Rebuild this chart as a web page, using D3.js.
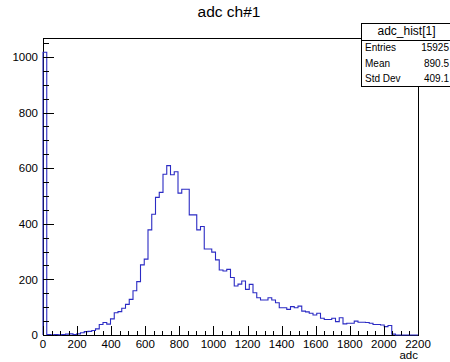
<!DOCTYPE html>
<html>
<head>
<meta charset="utf-8">
<script src="https://cdn.jsdelivr.net/npm/d3@7"></script>
<style>
  html, body { margin: 0; padding: 0; background: #fff; }
  svg { display: block; font-family: "Liberation Sans", Arial, Helvetica, sans-serif; }
</style>
</head>
<body>
<svg id="chart" width="450" height="362"></svg>
<script>
// ADC spectrum, channel 1: 100 bins of width 22 over 0..2200
const binLow = 0;
const binHigh = 2200;
const binCounts = [
  1017, 2, 1, 2, 1, 2, 3, 4, 2, 4,
  8, 12, 13, 16, 22, 38, 45, 39, 58, 80,
  84, 96, 110, 128, 159, 192, 252, 273, 378, 434,
  495, 513, 578, 609, 576, 587, 510, 524, 524, 432,
  432, 378, 390, 309, 309, 298, 270, 234, 230, 236,
  207, 176, 183, 194, 164, 182, 152, 134, 126, 126,
  134, 126, 116, 98, 98, 92, 102, 98, 104, 86,
  83, 78, 72, 78, 60, 56, 56, 60, 48, 62,
  40, 42, 42, 50, 46, 46, 45, 42, 38, 38,
  36, 30, 34, 3, 0, 0, 0, 0, 0, 0
];
const xTicks = [0, 200, 400, 600, 800, 1000, 1200, 1400, 1600, 1800, 2000, 2200];
const yTicks = [0, 200, 400, 600, 800, 1000];
const statNames = ["Entries", "Mean", "Std Dev"];
const statValues = ["15925", "890.5", "409.1"];
const histName = "adc_hist[1]";
const chartTitle = "adc ch#1";
const xTitle = "adc";

const svg = d3.select("#chart");
const frame = { left: 43, right: 418, top: 38, bottom: 335 };
const yMax = 1068;

const x = d3.scaleLinear().domain([binLow, binHigh]).range([frame.left, frame.right]);
const y = d3.scaleLinear().domain([0, yMax]).range([frame.bottom, frame.top]);

// Frame box
svg.append("rect")
  .attr("x", frame.left).attr("y", frame.top)
  .attr("width", frame.right - frame.left).attr("height", frame.bottom - frame.top)
  .attr("fill", "none").attr("stroke", "#000").attr("stroke-width", 1)
  .attr("shape-rendering", "crispEdges");

// Histogram outline
const binW = (binHigh - binLow) / binCounts.length;
const pts = [[binLow, 0]];
binCounts.forEach((c, i) => {
  pts.push([binLow + i * binW, c]);
  pts.push([binLow + (i + 1) * binW, c]);
});
pts.push([binHigh, 0]);
svg.append("path")
  .attr("d", d3.line().x(d => x(d[0])).y(d => y(d[1]))(pts))
  .attr("fill", "none").attr("stroke", "#2b2bc4").attr("stroke-width", 1.1);

// Ticks drawn inward, ROOT style
const minorStep = 50;
const xMajorLen = 9, xMinorLen = 4.5, yMajorLen = 11, yMinorLen = 5.5;
const ticksG = svg.append("g").attr("stroke", "#000").attr("stroke-width", 1)
  .attr("shape-rendering", "crispEdges");
for (let v = binLow; v <= binHigh; v += minorStep) {
  const major = v % 200 === 0;
  ticksG.append("line")
    .attr("x1", Math.round(x(v)) + 0.5).attr("x2", Math.round(x(v)) + 0.5)
    .attr("y1", frame.bottom).attr("y2", frame.bottom - (major ? xMajorLen : xMinorLen));
}
for (let v = 0; v <= yMax; v += minorStep) {
  const major = v % 200 === 0;
  ticksG.append("line")
    .attr("x1", frame.left).attr("x2", frame.left + (major ? yMajorLen : yMinorLen))
    .attr("y1", Math.round(y(v)) + 0.5).attr("y2", Math.round(y(v)) + 0.5);
}

// Tick labels
svg.append("g").selectAll("text").data(xTicks).join("text")
  .attr("x", d => x(d)).attr("y", 348)
  .attr("text-anchor", "middle").attr("font-size", 11.5).attr("fill", "#000")
  .text(d => d);
svg.append("g").selectAll("text").data(yTicks).join("text")
  .attr("x", 38).attr("y", d => y(d)).attr("dy", "0.36em")
  .attr("text-anchor", "end").attr("font-size", 11.5).attr("fill", "#000")
  .text(d => d);

// Axis title
svg.append("text")
  .attr("x", frame.right).attr("y", 359)
  .attr("text-anchor", "end").attr("font-size", 11.5).attr("fill", "#000")
  .text(xTitle);

// Chart title
svg.append("text")
  .attr("x", 229).attr("y", 17)
  .attr("text-anchor", "middle").attr("font-size", 15.5).attr("fill", "#000")
  .text(chartTitle);

// Statistics box
const sb = { left: 361, right: 452, top: 23, head: 40, bottom: 86 };
svg.append("rect")
  .attr("x", sb.left + 0.5).attr("y", sb.top + 0.5)
  .attr("width", sb.right - sb.left).attr("height", sb.bottom - sb.top)
  .attr("fill", "#fff").attr("stroke", "#000").attr("stroke-width", 1)
  .attr("shape-rendering", "crispEdges");
svg.append("line")
  .attr("x1", sb.left).attr("x2", sb.right)
  .attr("y1", sb.head + 0.5).attr("y2", sb.head + 0.5)
  .attr("stroke", "#000").attr("shape-rendering", "crispEdges");
svg.append("text")
  .attr("x", (sb.left + 450) / 2 + 1).attr("y", 35)
  .attr("text-anchor", "middle").attr("font-size", 12).attr("fill", "#000")
  .text(histName);
const rowH = (sb.bottom - sb.head) / statNames.length;
statNames.forEach((n, i) => {
  const cy = sb.head + rowH * (i + 0.5);
  svg.append("text").attr("x", sb.left + 4).attr("y", cy).attr("dy", "0.36em")
    .attr("font-size", 10).attr("fill", "#000").text(n);
  svg.append("text").attr("x", 449).attr("y", cy).attr("dy", "0.36em")
    .attr("text-anchor", "end").attr("font-size", 10).attr("fill", "#000").text(statValues[i]);
});
</script>
</body>
</html>
